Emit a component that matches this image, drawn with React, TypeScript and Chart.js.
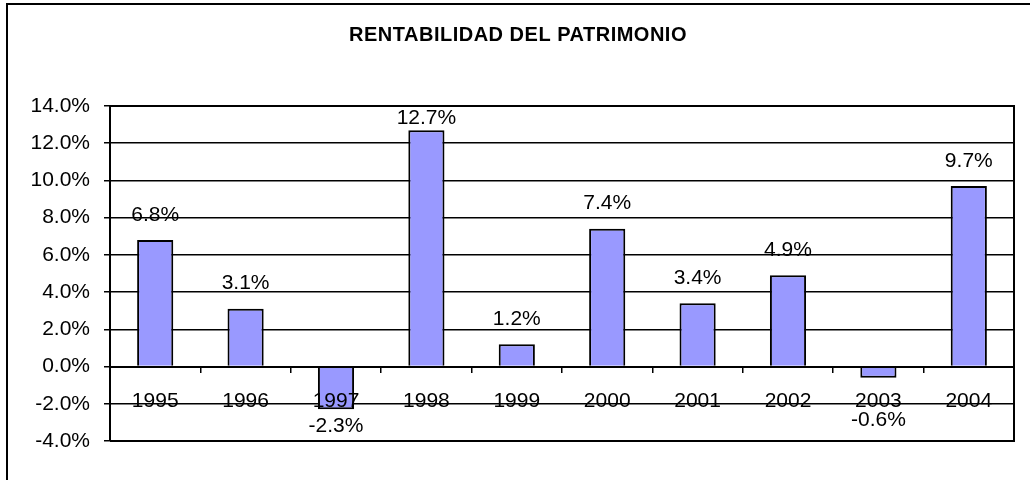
import React, { useEffect, useRef } from "react";
import { Chart, registerables } from "chart.js";

Chart.register(...registerables);

const TITLE = "RENTABILIDAD DEL PATRIMONIO";
const YEARS = ["1995", "1996", "1997", "1998", "1999", "2000", "2001", "2002", "2003", "2004"];
const ROE = [6.8, 3.1, -2.3, 12.7, 1.2, 7.4, 3.4, 4.9, -0.6, 9.7];
const Y_MIN = -4;
const Y_MAX = 14;
const Y_STEP = 2;

const FONT = "Arial, 'Liberation Sans', sans-serif";
const FONT_SIZE = 21;

const framePlugin = {
  id: "frame",
  beforeDraw(chart: any) {
    const ctx = chart.ctx;
    ctx.save();
    ctx.fillStyle = "#ffffff";
    ctx.fillRect(0, 0, chart.width, chart.height);
    ctx.strokeStyle = "#000000";
    ctx.lineWidth = 2;
    ctx.strokeRect(7, 4, chart.width + 20, chart.height + 20);
    ctx.restore();
  },
  afterDraw(chart: any) {
    const ctx = chart.ctx;
    const a = chart.chartArea;
    ctx.save();
    ctx.strokeStyle = "#000000";
    ctx.lineWidth = 2;
    ctx.beginPath();
    ctx.moveTo(a.left, a.top);
    ctx.lineTo(a.right, a.top);
    ctx.lineTo(a.right, a.bottom);
    ctx.lineTo(a.left, a.bottom);
    ctx.stroke();
    ctx.fillStyle = "#000000";
    ctx.font = "bold 20px " + FONT;
    (ctx as any).letterSpacing = "0.5px";
    ctx.textAlign = "center";
    ctx.textBaseline = "alphabetic";
    ctx.fillText(TITLE, 518, 41);
    ctx.restore();
  },
};

const labelPlugin = {
  id: "valueLabels",
  afterDatasetsDraw(chart: any) {
    const ctx = chart.ctx;
    const meta = chart.getDatasetMeta(0);
    const zeroY = chart.scales.y.getPixelForValue(0);
    const top = chart.chartArea.top;
    ctx.save();
    ctx.fillStyle = "#000000";
    ctx.font = FONT_SIZE + "px " + FONT;
    ctx.textAlign = "center";
    ctx.textBaseline = "alphabetic";
    meta.data.forEach((bar: any, i: number) => {
      const v = ROE[i];
      const txt = v.toFixed(1) + "%";
      if (v >= 0) {
        ctx.fillText(txt, bar.x, Math.max(bar.y - 19.5, top + 18));
      } else {
        ctx.fillText(txt, bar.x, Math.max(bar.y + 23, zeroY + 59));
      }
    });
    ctx.restore();
  },
};

export default function App() {
  const ref = useRef<HTMLCanvasElement | null>(null);

  useEffect(() => {
    if (!ref.current) return;
    const chart = new Chart(ref.current, {
      type: "bar",
      data: {
        labels: YEARS,
        datasets: [
          {
            data: ROE,
            backgroundColor: "#9999FF",
            borderColor: "#000000",
            borderWidth: 2,
            categoryPercentage: 1,
            barPercentage: 0.4,
          },
        ],
      },
      options: {
        animation: false,
        responsive: false,
        maintainAspectRatio: false,
        layout: { padding: { left: 0, right: 16, top: 106, bottom: 39 } },
        plugins: {
          legend: { display: false },
          title: { display: false },
          tooltip: { enabled: false },
        },
        scales: {
          x: {
            position: { y: 0 } as any,
            offset: true,
            grid: {
              display: true,
              offset: true,
              drawOnChartArea: false,
              drawTicks: true,
              tickLength: 5,
              color: "#000000",
              lineWidth: 1.5,
              z: 1,
            },
            border: { display: true, color: "#000000", width: 2, z: 1 },
            ticks: {
              color: "#000000",
              font: { family: FONT, size: FONT_SIZE },
              padding: 17,
              maxRotation: 0,
              autoSkip: false,
              z: 2,
            },
          },
          y: {
            min: Y_MIN,
            max: Y_MAX,
            afterFit: (scale: any) => {
              scale.width = 110;
            },
            grid: {
              color: "#000000",
              lineWidth: 1.5,
              tickLength: 6,
              drawTicks: true,
            },
            border: { display: true, color: "#000000", width: 2 },
            ticks: {
              stepSize: Y_STEP,
              color: "#000000",
              padding: 14,
              font: { family: FONT, size: FONT_SIZE },
              callback: (v: any) => Number(v).toFixed(1) + "%",
            },
          },
        },
      },
      plugins: [framePlugin, labelPlugin],
    });
    return () => chart.destroy();
  }, []);

  return (
    <div style={{ position: "fixed", left: 0, top: 0, width: 1030, height: 480, background: "#fff" }}>
      <canvas ref={ref} width={1030} height={480} style={{ width: 1030, height: 480, display: "block" }} />
    </div>
  );
}
